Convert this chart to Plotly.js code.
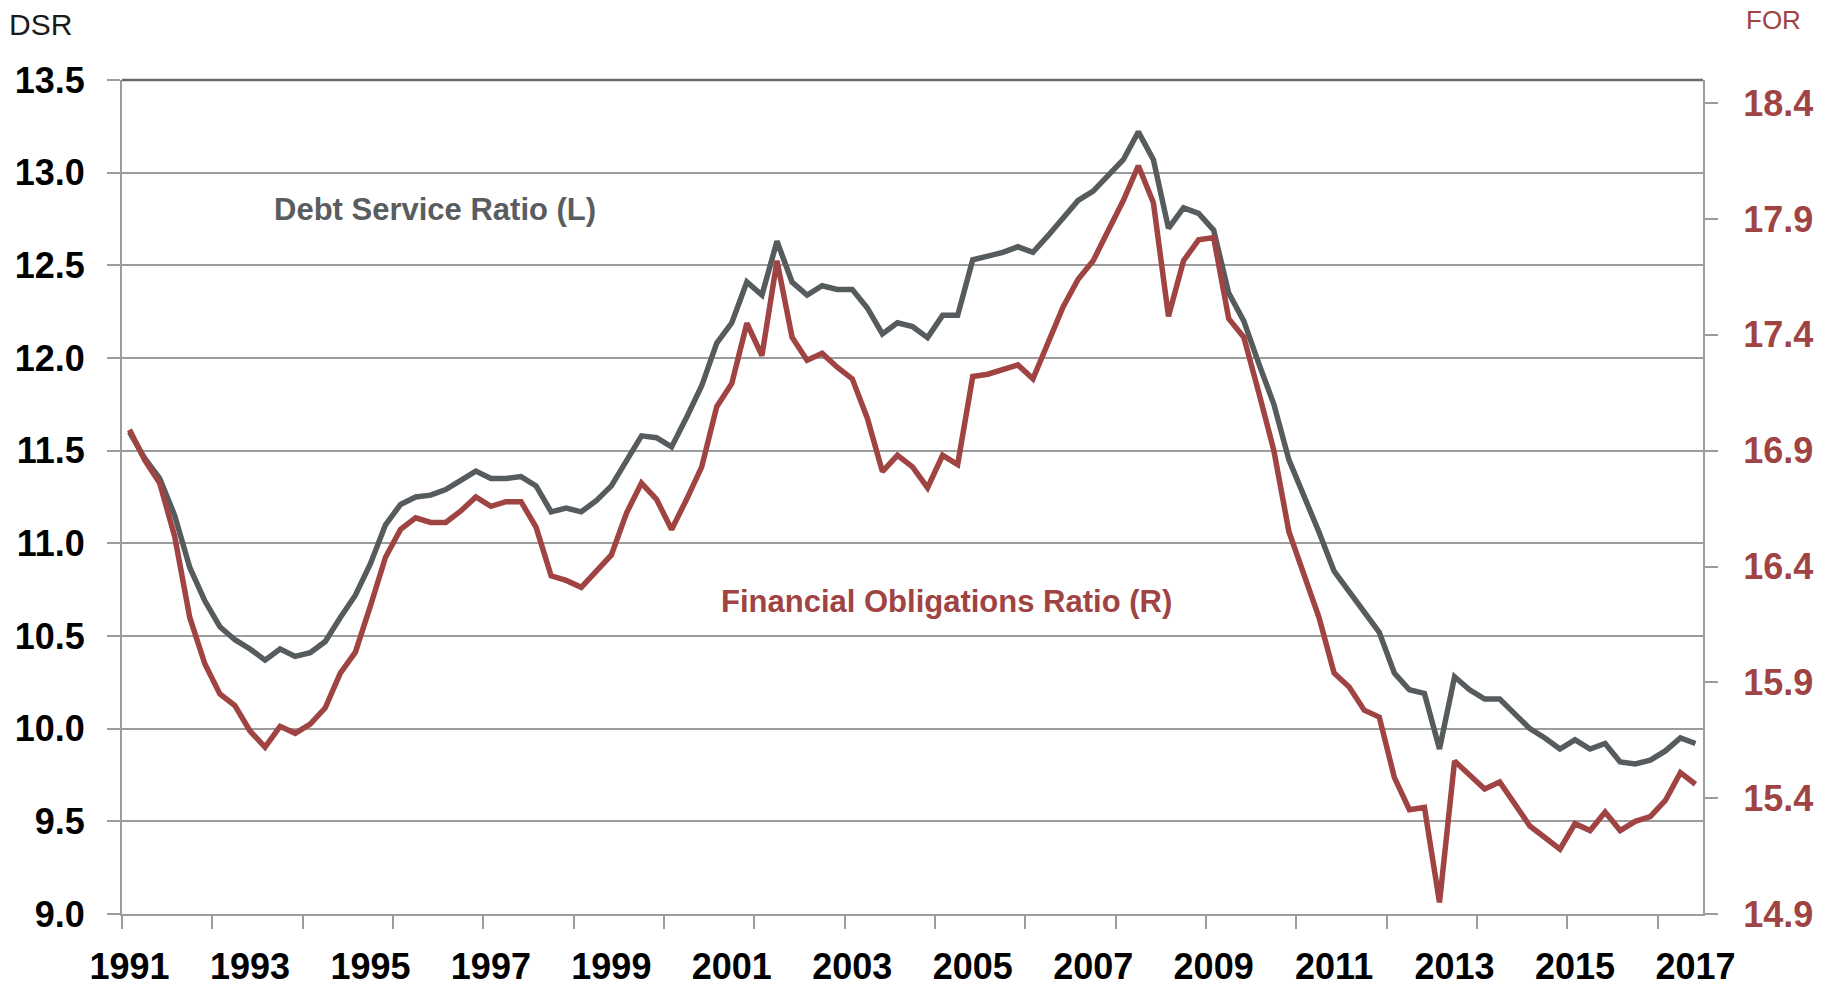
<!DOCTYPE html>
<html>
<head>
<meta charset="utf-8">
<script src="https://cdn.plot.ly/plotly-3.0.1.min.js"></script>
<style>
  html, body { margin: 0; padding: 0; background: #ffffff; }
  #chart { width: 1829px; height: 986px; }
</style>
</head>
<body>
<div id="chart"></div>
<script>
// Quarterly data, 1991 Q1 through 2017 Q1
const firstYear = 1991;
const quartersPerYear = 4;

// Debt Service Ratio (left axis)
const dsr = [
  11.60, 11.46, 11.35, 11.15, 10.87, 10.69, 10.55, 10.48, 10.43, 10.37,
  10.43, 10.39, 10.41, 10.47, 10.60, 10.72, 10.89, 11.10, 11.21, 11.25,
  11.26, 11.29, 11.34, 11.39, 11.35, 11.35, 11.36, 11.31, 11.17, 11.19,
  11.17, 11.23, 11.31, 11.45, 11.58, 11.57, 11.52, 11.68, 11.85, 12.08,
  12.19, 12.41, 12.34, 12.63, 12.41, 12.34, 12.39, 12.37, 12.37, 12.27,
  12.13, 12.19, 12.17, 12.11, 12.23, 12.23, 12.53, 12.55, 12.57, 12.60,
  12.57, 12.66, 12.76, 12.85, 12.90, 12.99, 13.07, 13.22, 13.07, 12.70,
  12.81, 12.78, 12.69, 12.35, 12.20, 11.97, 11.75, 11.45, 11.26, 11.06,
  10.85, 10.74, 10.63, 10.52, 10.30, 10.21, 10.19, 9.89, 10.28, 10.21,
  10.16, 10.16, 10.08, 10.00, 9.95, 9.89, 9.94, 9.89, 9.92, 9.82,
  9.81, 9.83, 9.88, 9.95, 9.92
];

// Financial Obligations Ratio (right axis)
const forRatio = [
  16.99, 16.86, 16.76, 16.53, 16.18, 15.98, 15.85, 15.80, 15.69, 15.62,
  15.71, 15.68, 15.72, 15.79, 15.94, 16.03, 16.23, 16.44, 16.56, 16.61,
  16.59, 16.59, 16.64, 16.70, 16.66, 16.68, 16.68, 16.57, 16.36, 16.34,
  16.31, 16.38, 16.45, 16.63, 16.76, 16.69, 16.56, 16.69, 16.83, 17.09,
  17.19, 17.45, 17.31, 17.72, 17.39, 17.29, 17.32, 17.26, 17.21, 17.04,
  16.81, 16.88, 16.83, 16.74, 16.88, 16.84, 17.22, 17.23, 17.25, 17.27,
  17.21, 17.36, 17.52, 17.64, 17.72, 17.85, 17.98, 18.13, 17.97, 17.48,
  17.72, 17.81, 17.82, 17.47, 17.39, 17.15, 16.90, 16.55, 16.36, 16.18,
  15.94, 15.88, 15.78, 15.75, 15.49, 15.35, 15.36, 14.95, 15.56, 15.50,
  15.44, 15.47, 15.37, 15.28, 15.23, 15.18, 15.29, 15.26, 15.34, 15.26,
  15.30, 15.32, 15.39, 15.51, 15.46
];

const yearLabels = ['1991','1993','1995','1997','1999','2001','2003','2005',
                    '2007','2009','2011','2013','2015','2017'];

const quarterX = dsr.map((_, i) => firstYear + i / quartersPerYear);

const GRAY = '#565b5e';
const RED = '#a04343';
const GRID = '#9c9c9c';
const FONT = "'Liberation Sans', Arial, sans-serif";

const traces = [
  {
    x: quarterX, y: dsr, type: 'scatter', mode: 'lines',
    name: 'Debt Service Ratio (L)',
    line: { color: GRAY, width: 5.5 },
    hoverinfo: 'skip'
  },
  {
    x: quarterX, y: forRatio, type: 'scatter', mode: 'lines',
    name: 'Financial Obligations Ratio (R)', yaxis: 'y2',
    line: { color: RED, width: 5.5 },
    hoverinfo: 'skip'
  }
];

const layout = {
  width: 1829, height: 986,
  margin: { l: 122, r: 126, t: 80, b: 72, pad: 0 },
  paper_bgcolor: '#ffffff', plot_bgcolor: '#ffffff',
  showlegend: false,
  xaxis: {
    range: [firstYear - 0.125, firstYear + (dsr.length - 1) / quartersPerYear + 0.125],
    tickmode: 'array',
    tickvals: yearLabels.map(Number),
    ticktext: yearLabels,
    ticks: '',
    showgrid: false, zeroline: false,
    showline: true, linecolor: GRID, linewidth: 2,
    tickfont: { family: FONT, size: 36, color: '#000000', weight: 700 },
    ticklabelstandoff: 20,
    minor: {
      tick0: firstYear - 0.125, dtick: 1.5,
      ticks: 'outside', ticklen: 13, tickwidth: 2, tickcolor: GRID,
      showgrid: false
    }
  },
  yaxis: {
    range: [9.0, 13.5],
    tick0: 9.0, dtick: 0.5, tickformat: '.1f',
    ticks: 'outside', ticklen: 13, tickwidth: 2, tickcolor: GRID,
    showgrid: true, gridcolor: GRID, gridwidth: 2,
    zeroline: false,
    showline: true, linecolor: GRID, linewidth: 2,
    tickfont: { family: FONT, size: 36, color: '#000000', weight: 700 },
    ticklabelstandoff: 15
  },
  yaxis2: {
    overlaying: 'y', side: 'right',
    range: [14.9, 18.5],
    tick0: 14.9, dtick: 0.5, tickformat: '.1f',
    ticks: 'outside', ticklen: 13, tickwidth: 2, tickcolor: GRID,
    showgrid: false, zeroline: false,
    showline: true, linecolor: GRID, linewidth: 2,
    tickfont: { family: FONT, size: 36, color: RED, weight: 700 },
    ticklabelstandoff: 18
  },
  shapes: [
    { type: 'line', xref: 'paper', yref: 'paper', x0: 0, x1: 1, y0: 1, y1: 1,
      line: { color: '#6a6a6a', width: 2.5 } }
  ],
  annotations: [
    { text: 'DSR', xref: 'paper', yref: 'paper', x: -0.0725, y: 1.067,
      xanchor: 'left', yanchor: 'middle', showarrow: false,
      font: { family: FONT, size: 30, color: '#1a1a1a' } },
    { text: 'FOR', xref: 'paper', yref: 'paper', x: 1.026, y: 1.0715,
      xanchor: 'left', yanchor: 'middle', showarrow: false,
      font: { family: FONT, size: 26, color: RED } },
    { text: 'Debt Service Ratio (L)', xref: 'paper', yref: 'paper', x: 0.198, y: 0.845,
      xanchor: 'center', yanchor: 'middle', showarrow: false,
      font: { family: FONT, size: 31, color: '#595d60', weight: 700 } },
    { text: 'Financial Obligations Ratio (R)', xref: 'paper', yref: 'paper', x: 0.5218, y: 0.375,
      xanchor: 'center', yanchor: 'middle', showarrow: false,
      font: { family: FONT, size: 31, color: RED, weight: 700 } }
  ]
};

Plotly.newPlot('chart', traces, layout, { displayModeBar: false, staticPlot: true });
</script>
</body>
</html>
